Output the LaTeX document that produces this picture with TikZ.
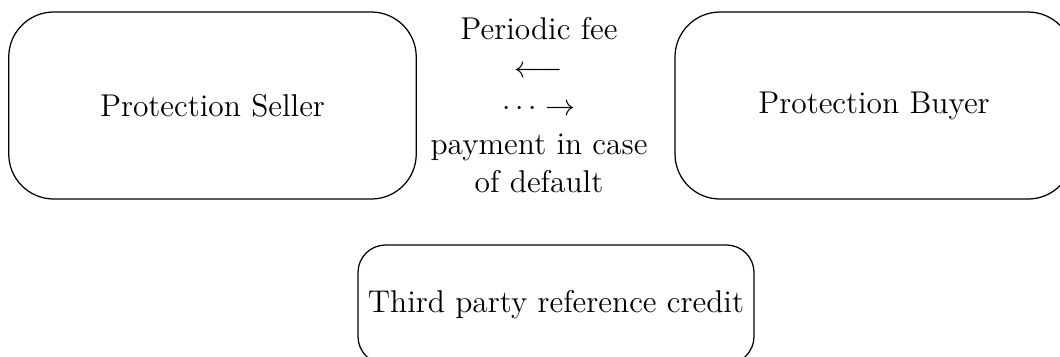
\documentclass[tikz,border=0pt]{standalone}
\begin{document}
\begin{tikzpicture}[x=0.4pt,y=-0.4pt,
  party/.style={draw, line width=0.5pt, rounded corners=18pt, inner sep=0pt,
    font=\fontsize{12.6}{15.3}\selectfont},
  flow/.style={align=center, inner sep=0pt, font=\fontsize{12.6}{15.3}\selectfont}]
\useasboundingbox (0,0) rectangle (1060,356);
\node[party, minimum width=163pt, minimum height=74.8pt] (seller) at (212.5,105.5) {Protection Seller};
\node[party, minimum width=159.2pt, minimum height=74.8pt] (buyer) at (874,105.5) {Protection Buyer};
\node[party, rounded corners=11pt, minimum width=158.4pt, minimum height=47.6pt] (third) at (556,304.5) {Third party reference credit};
\node[flow] (flows) at (539,105) {Periodic fee\\ $\longleftarrow$\\ $\cdots\rightarrow$\\ payment in case\\ of default};
\end{tikzpicture}
\end{document}
